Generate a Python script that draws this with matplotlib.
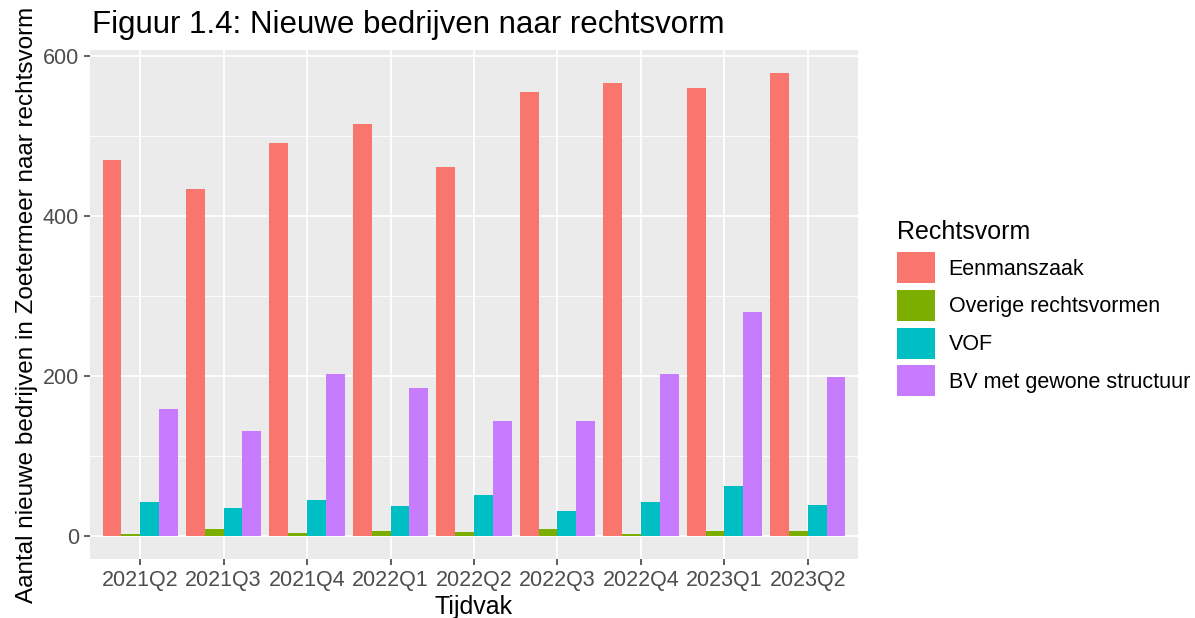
import numpy as np
import matplotlib
matplotlib.use("Agg")
import matplotlib.pyplot as plt

plt.rcParams['font.family'] = ['Liberation Sans', 'DejaVu Sans']

# data
periods = ['2021Q2', '2021Q3', '2021Q4', '2022Q1', '2022Q2',
           '2022Q3', '2022Q4', '2023Q1', '2023Q2']
series_names = ['Eenmanszaak', 'Overige rechtsvormen', 'VOF', 'BV met gewone structuur']
eenmanszaak = [469, 433, 491, 514, 461, 554, 566, 560, 578]
overige = [2, 8, 4, 6, 5, 8, 2, 6, 6]
vof = [42, 35, 45, 37, 51, 31, 42, 62, 39]
bv = [159, 131, 202, 185, 143, 143, 202, 280, 199]
colors = ['#F8766D', '#7CAE00', '#00BFC4', '#C77CFF']

fig = plt.figure(figsize=(11.95, 6.18), dpi=100)
ax = fig.add_axes([90 / 1195, 1 - 559 / 618, 768 / 1195, 509 / 618])
ax.set_facecolor('#EBEBEB')

x = np.arange(1, len(periods) + 1)
width = 0.9 / 4
for i, (vals, name) in enumerate(zip([eenmanszaak, overige, vof, bv], series_names)):
    ax.bar(x - 0.45 + width * (i + 0.5), vals, width, color=colors[i], label=name, zorder=3)

ymax = max(eenmanszaak)
ax.set_ylim(-0.05 * ymax, 1.05 * ymax)
ax.set_xlim(0.4, len(periods) + 0.6)
ax.set_xticks(x)
ax.set_xticklabels(periods)
ax.set_yticks([0, 200, 400, 600])
ax.set_yticks([100, 300, 500], minor=True)
ax.set_xticks([], minor=True)
ax.grid(True, which='major', color='white', linewidth=1.3, zorder=0)
ax.grid(True, which='minor', axis='y', color='white', linewidth=0.6, zorder=0)
ax.set_axisbelow(True)
for s in ax.spines.values():
    s.set_visible(False)
ax.tick_params(which='major', length=4, color='#333333', width=1.1, labelsize=15.5,
               labelcolor='#4D4D4D', pad=4)
ax.tick_params(which='minor', length=0)

ax.set_xlabel('Tijdvak', fontsize=18, color='black', labelpad=3)
ax.set_ylabel('Aantal nieuwe bedrijven in Zoetermeer naar rechtsvorm', fontsize=17.5,
              color='black', labelpad=3)
fig.text(92 / 1195, 1 - 25 / 618, 'Figuur 1.4: Nieuwe bedrijven naar rechtsvorm',
         fontsize=22.5, va='center', ha='left')

leg = fig.legend(loc='upper left', bbox_to_anchor=(897 / 1195, 1 - 220 / 618),
                 bbox_transform=fig.transFigure,
                 title='Rechtsvorm', frameon=False, fontsize=15.5, title_fontsize=18,
                 handlelength=1.75, handleheight=1.85, handletextpad=0.65, labelspacing=0.3,
                 borderaxespad=0, borderpad=0)
leg._legend_box.align = 'left'
leg._legend_box.sep = 6

fig.savefig('out.png', dpi=100)
